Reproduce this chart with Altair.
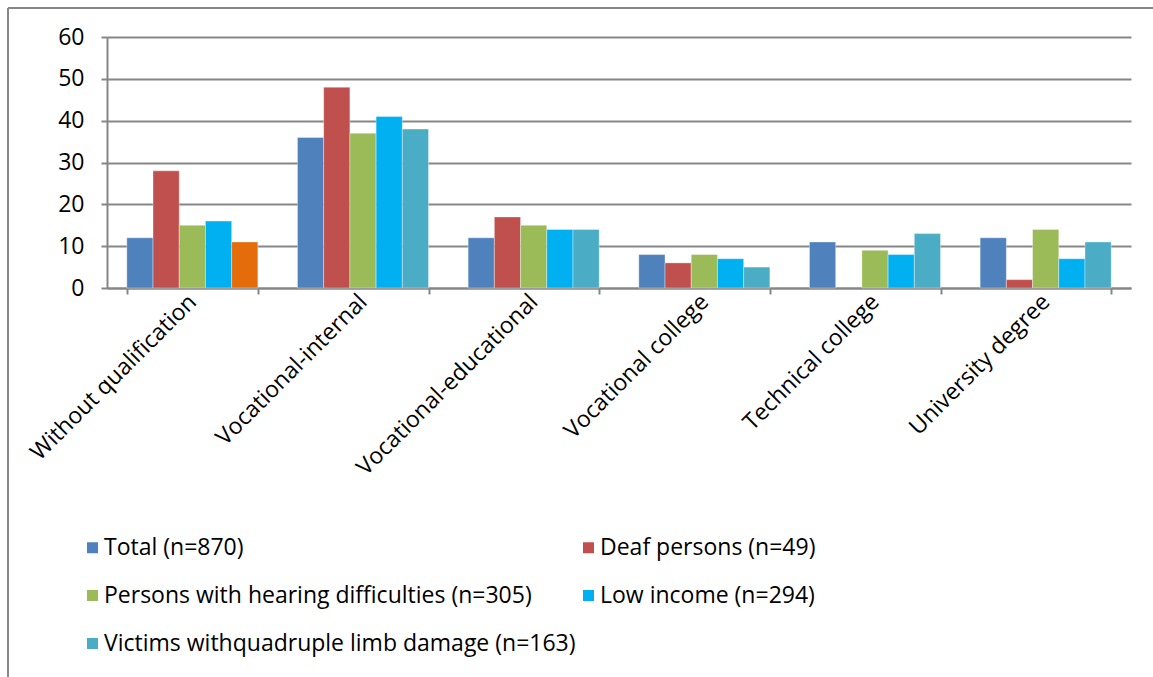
import altair as alt
import pandas as pd

# Share (%) of each group by highest vocational qualification
categories = [
    "Without qualification",
    "Vocational-internal",
    "Vocational-educational",
    "Vocational college",
    "Technical college",
    "University degree",
]
series = [
    "Total (n=870)",
    "Deaf persons (n=49)",
    "Persons with hearing difficulties (n=305)",
    "Low income (n=294)",
    "Victims withquadruple limb damage (n=163)",
]
total = [12, 36, 12, 8, 11, 12]
deaf = [28, 48, 17, 6, None, 2]
hearing = [15, 37, 15, 8, 9, 14]
low_income = [16, 41, 14, 7, 8, 7]
victims = [11, 38, 14, 5, 13, 11]

colors = ["#4F81BD", "#C0504D", "#9BBB59", "#00B0F0", "#4BACC6"]
highlight_color = "#E46C0A"

# The legend fills column by column, so list entries in that order
# to read Total / Deaf, Hearing / Low income, Victims across the rows.
legend_order = [series[0], series[2], series[4], series[1], series[3]]
legend_colors = [colors[0], colors[2], colors[4], colors[1], colors[3]]

rows = []
for s, vals in zip(series, [total, deaf, hearing, low_income, victims]):
    for c, v in zip(categories, vals):
        if v is not None:
            rows.append({"category": c, "series": s, "value": v})
df = pd.DataFrame(rows)

font = "Open Sans"
fsize = 23
grey = "#868686"

bars = alt.Chart(df).mark_bar(stroke="#ffffff", strokeWidth=0.6, strokeOpacity=0.6).encode(
    x=alt.X(
        "category:N",
        sort=categories,
        title=None,
        scale=alt.Scale(paddingInner=0.232, paddingOuter=0.116),
        axis=alt.Axis(
            labelAngle=-45,
            labelAlign="right",
            labelBaseline="middle",
            labelFontSize=fsize,
            labelFont=font,
            labelColor="#000000",
            labelPadding=4,
            tickBand="extent",
            tickSize=6,
            tickColor=grey,
            tickWidth=2,
            domainColor=grey,
            domainWidth=2,
            grid=False,
            labelLimit=400,
        ),
    ),
    xOffset=alt.XOffset("series:N", sort=series, scale=alt.Scale(domain=series, paddingInner=0, paddingOuter=0)),
    y=alt.Y(
        "value:Q",
        title=None,
        scale=alt.Scale(domain=[0, 60]),
        axis=alt.Axis(
            values=[0, 10, 20, 30, 40, 50, 60],
            labelFontSize=fsize,
            labelFont=font,
            labelColor="#000000",
            labelPadding=17,
            tickSize=6,
            tickColor=grey,
            tickWidth=2,
            gridColor=grey,
            gridWidth=2,
            domainColor=grey,
            domainWidth=2,
        ),
    ),
    color=alt.condition(
        "datum.category == 'Without qualification' && datum.series == 'Victims withquadruple limb damage (n=163)'",
        alt.value(highlight_color),
        alt.Color(
            "series:N",
            scale=alt.Scale(domain=legend_order, range=legend_colors),
            legend=alt.Legend(
                title=None,
                orient="none",
                legendX=-26,
                legendY=499,
                columns=2,
                columnPadding=1,
                rowPadding=24,
                symbolType="square",
                symbolSize=121,
                symbolStrokeWidth=0,
                labelFontSize=fsize,
                labelFont=font,
                labelColor="#000000",
                labelOffset=0,
                labelLimit=600,
                padding=0,
            ),
        ),
    ),
)

# Thin outer frame along the top and left edges of the figure
frame_top = alt.Chart(pd.DataFrame({"k": [0]})).mark_rule(color=grey, strokeWidth=2, clip=False).encode(
    x=alt.value(-99), x2=alt.value(1100), y=alt.value(-29)
)
frame_left = alt.Chart(pd.DataFrame({"k": [0]})).mark_rule(color=grey, strokeWidth=2, clip=False).encode(
    x=alt.value(-99), y=alt.value(-29), y2=alt.value(700)
)

chart = (
    alt.layer(bars, frame_top, frame_left)
    .properties(
        width=1024,
        height=251,
        autosize=alt.AutoSizeParams(type="none"),
        padding={"left": 107, "top": 37, "right": 22, "bottom": 389},
        background="#ffffff",
    )
    .configure_view(stroke=None)
)

chart.save("out.html", embed_options={"renderer": "svg", "actions": False})
